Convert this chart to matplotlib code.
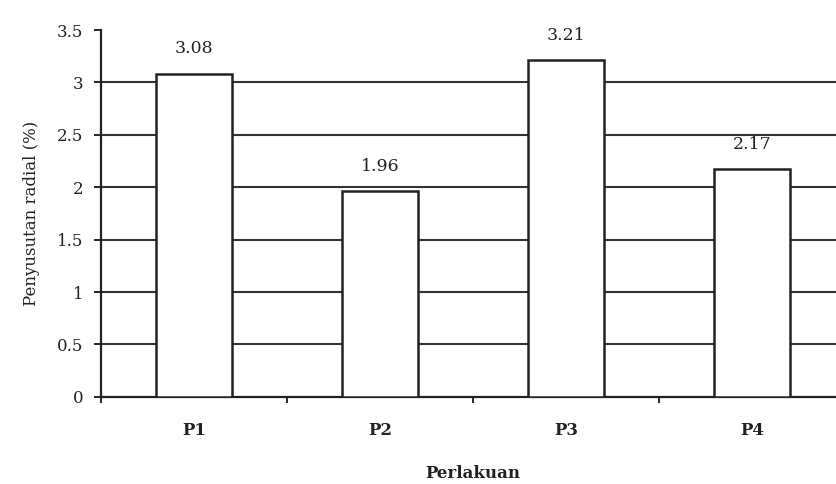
import matplotlib
matplotlib.use("Agg")
import matplotlib.pyplot as plt
import numpy as np

# data
perlakuan = ["P1", "P2", "P3", "P4"]
penyusutan = [3.08, 1.96, 3.21, 2.17]
yticks = [0, 0.5, 1, 1.5, 2, 2.5, 3, 3.5]
ytick_labels = ["0", "0.5", "1", "1.5", "2", "2.5", "3", "3.5"]

plt.rcParams["font.family"] = ["DejaVu Serif"]
ink = "#222222"

fig = plt.figure(figsize=(8.36, 4.84), dpi=100)
# axes runs a bit past the right edge, like the cropped original
ax = fig.add_axes([0.121, 0.180, 0.89, 0.758])

x = np.arange(len(perlakuan))
ax.bar(x, penyusutan, width=0.41, color="white", edgecolor=ink,
       linewidth=1.8, zorder=3)

# horizontal grid lines behind the bars
for yv in yticks[1:-1]:
    ax.axhline(yv, color="#333333", linewidth=1.5, zorder=1)

for xi, v in zip(x, penyusutan):
    ax.annotate(f"{v:.2f}", (xi, v), xytext=(0, 12), textcoords="offset points",
                ha="center", va="bottom", fontsize=12.5, color=ink)

ax.set_xlim(-0.5, len(perlakuan) - 0.5)
ax.set_ylim(0, 3.5)
ax.set_yticks(yticks)
ax.set_yticklabels(ytick_labels, fontsize=12, color=ink)

# category ticks sit between the bars, labels at the centres
ax.set_xticks(np.arange(len(perlakuan) + 1) - 0.5)
ax.set_xticklabels([])
ax.set_xticks(x, minor=True)
ax.set_xticklabels(perlakuan, minor=True, fontsize=12, fontweight="bold", color=ink)
ax.tick_params(axis="x", which="minor", length=0, pad=18)
ax.tick_params(axis="x", which="major", length=4, width=1.2, direction="out")
ax.tick_params(axis="y", length=5, width=1.2, direction="out", pad=8)

for side in ["top", "right"]:
    ax.spines[side].set_visible(False)
for side in ["left", "bottom"]:
    ax.spines[side].set_linewidth(1.6)
    ax.spines[side].set_color(ink)

ax.set_xlabel("Perlakuan", fontsize=12, fontweight="bold", color=ink, labelpad=19)
ax.set_ylabel("Penyusutan radial (%)", fontsize=12, color=ink, labelpad=12)

plt.savefig("out.png", dpi=100)
